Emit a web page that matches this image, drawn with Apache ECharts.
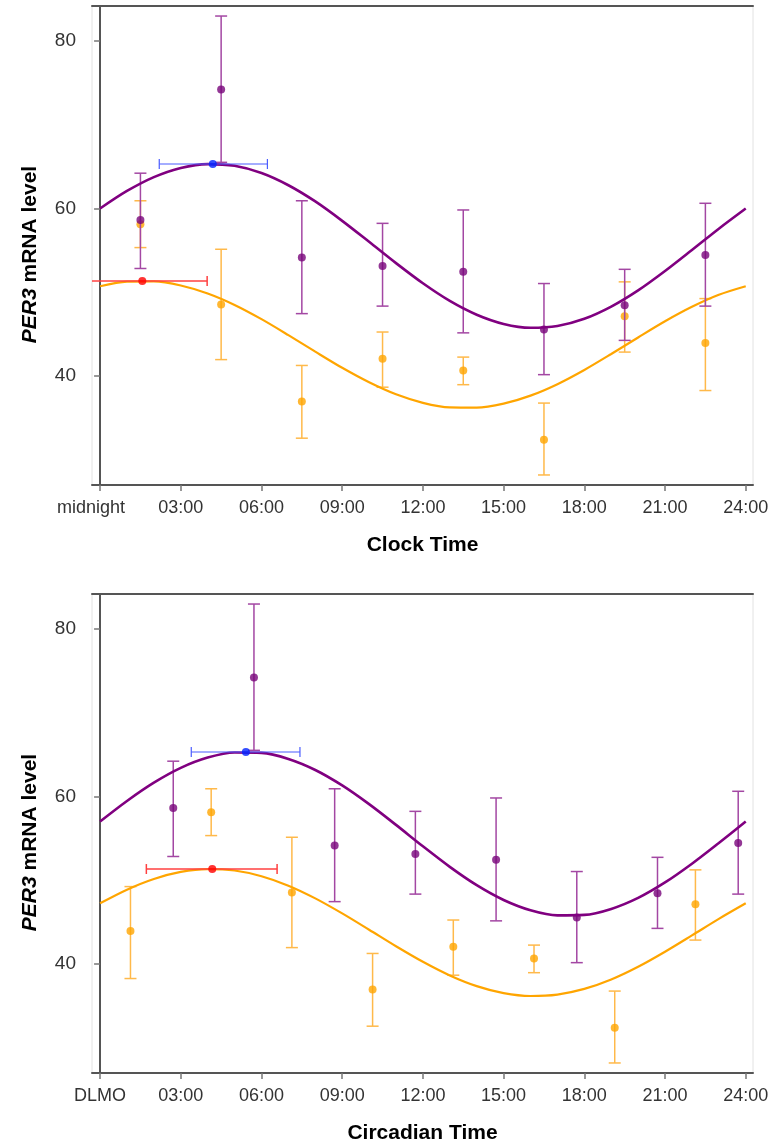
<!DOCTYPE html>
<html>
<head>
<meta charset="utf-8">
<title>PER3 mRNA level</title>
<script src="https://cdn.jsdelivr.net/npm/echarts@6/dist/echarts.min.js"></script>
<style>
  html, body { margin: 0; padding: 0; background: #fff; }
  #chart { width: 772px; height: 1146px; }
</style>
</head>
<body>
<div id="chart"></div>
<script>
// tick positions
var hourTicks = [0, 3, 6, 9, 12, 15, 18, 21, 24];
var levelTicks = [40, 60, 80];

// sampling times of the means (hours)
var clockPurpleHours = [1.5, 4.5, 7.5, 10.5, 13.5, 16.5, 19.5, 22.5];
var clockOrangeHours = [1.5, 4.5, 7.5, 10.5, 13.5, 16.5, 19.5, 22.5];
var circPurpleHours = [2.72, 5.72, 8.72, 11.72, 14.72, 17.72, 20.72, 23.72];
var circOrangeHours = [4.13, 7.13, 10.13, 13.13, 16.13, 19.13, 22.13, 1.13];

// purple group: mean and error bar ends
var purpleMean = [58.6, 74.2, 54.1, 53.1, 52.4, 45.5, 48.4, 54.4];
var purpleUpper = [64.2, 83.0, 60.9, 58.2, 59.8, 51.0, 52.7, 60.6];
var purpleLower = [52.8, 65.5, 47.4, 48.3, 45.1, 40.1, 44.2, 48.3];

// orange group: mean and error bar ends
var orangeMean = [58.1, 48.5, 36.9, 42.0, 40.6, 32.3, 47.1, 43.9];
var orangeUpper = [60.9, 55.1, 41.2, 45.2, 42.2, 36.7, 51.2, 49.2];
var orangeLower = [55.3, 41.9, 32.5, 38.6, 38.9, 28.1, 42.8, 38.2];

// fitted curves
var fitHours = [0, 1, 2, 3, 4, 5, 6, 7, 8, 9, 10, 11, 12, 13, 14, 15, 16, 17, 18, 19, 20, 21, 22, 23, 24];
var clockPurpleFit = [59.97, 62.07, 63.73, 64.83, 65.29, 65.08, 64.22, 62.76, 60.82, 58.5, 55.99, 53.44, 51.03,
  48.92, 47.27, 46.17, 45.71, 45.92, 46.78, 48.24, 50.18, 52.5, 55.01, 57.56, 59.97];
var clockOrangeFit = [50.67, 51.22, 51.25, 50.77, 49.81, 48.44, 46.74, 44.83, 42.85, 40.92, 39.19, 37.75, 36.73,
  36.18, 36.15, 36.63, 37.59, 38.96, 40.66, 42.57, 44.55, 46.48, 48.21, 49.65, 50.67];
var circPurpleFit = [56.98, 59.44, 61.63, 63.4, 64.63, 65.24, 65.19, 64.47, 63.15, 61.3, 59.06, 56.58, 54.02,
  51.56, 49.37, 47.6, 46.37, 45.76, 45.81, 46.53, 47.85, 49.7, 51.94, 54.42, 56.98];
var circOrangeFit = [47.2, 48.83, 50.11, 50.95, 51.29, 51.12, 50.44, 49.31, 47.79, 45.99, 44.04, 42.06, 40.2,
  38.57, 37.29, 36.45, 36.11, 36.28, 36.96, 38.09, 39.61, 41.41, 43.36, 45.34, 47.2];

// acrophase with its range: [hour, level, low hour, high hour]
var clockPurplePeak = [4.19, 65.3, 2.2, 6.22];
var clockOrangePeak = [1.57, 51.3, -0.85, 3.98];
var circPurplePeak = [5.42, 65.3, 3.39, 7.43];
var circOrangePeak = [4.17, 51.3, 1.72, 6.58];

var PURPLE = '#78057a', PURPLE_BAR = '#a347a3';
var ORANGE = '#ffa500', ORANGE_BAR = '#ffb94a';
var labelFont = '"Liberation Sans", Arial, sans-serif';
var titleFont = '"Liberation Sans", Arial, sans-serif';

function zip(a, b) {
  var out = [];
  for (var i = 0; i < a.length; i++) out.push([a[i], b[i]]);
  return out;
}

function errData(xs, lo, hi) {
  var out = [];
  for (var i = 0; i < xs.length; i++) out.push([xs[i], lo[i], hi[i]]);
  return out;
}

// vertical error bar: data [x, low, high]
function vBarRender(color, lw, cap) {
  return function(params, api) {
    var top = api.coord([api.value(0), api.value(2)]);
    var bot = api.coord([api.value(0), api.value(1)]);
    var st = { stroke: color, lineWidth: lw };
    return { type: 'group', children: [
      { type: 'line', shape: { x1: top[0], y1: top[1], x2: bot[0], y2: bot[1] }, style: st },
      { type: 'line', shape: { x1: top[0] - cap, y1: top[1], x2: top[0] + cap, y2: top[1] }, style: st },
      { type: 'line', shape: { x1: bot[0] - cap, y1: bot[1], x2: bot[0] + cap, y2: bot[1] }, style: st }
    ]};
  };
}

// horizontal error bar: data [y, low, high]
function hBarRender(color, lw, cap) {
  return function(params, api) {
    var l = api.coord([api.value(1), api.value(0)]);
    var r = api.coord([api.value(2), api.value(0)]);
    var st = { stroke: color, lineWidth: lw };
    return { type: 'group', children: [
      { type: 'line', shape: { x1: l[0], y1: l[1], x2: r[0], y2: r[1] }, style: st },
      { type: 'line', shape: { x1: l[0], y1: l[1] - cap, x2: l[0], y2: l[1] + cap }, style: st },
      { type: 'line', shape: { x1: r[0], y1: r[1] - cap, x2: r[0], y2: r[1] + cap }, style: st }
    ]};
  };
}

function panelSeries(gi, pHours, oHours, pFit, oFit, pPeak, oPeak) {
  var ax = { xAxisIndex: gi * 2, yAxisIndex: gi };
  function s(o) { return Object.assign(o, ax); }
  return [
    // orange group underneath
    s({ type: 'custom', renderItem: vBarRender(ORANGE_BAR, 1.5, 6), clip: true,
      encode: { x: 0, y: [1, 2] }, data: errData(oHours, orangeLower, orangeUpper), z: 2 }),
    s({ type: 'scatter', symbol: 'circle', symbolSize: 8, itemStyle: { color: ORANGE },
      data: zip(oHours, orangeMean), z: 3 }),
    s({ type: 'line', data: zip(fitHours, oFit), smooth: 0.3, showSymbol: false,
      lineStyle: { color: ORANGE, width: 2.2 }, z: 4 }),
    s({ type: 'custom', renderItem: hBarRender('#ff4040', 1.5, 5), clip: true,
      encode: { x: [1, 2], y: 0 }, data: [[oPeak[1], oPeak[2], oPeak[3]]], z: 5 }),
    s({ type: 'scatter', symbol: 'circle', symbolSize: 8, itemStyle: { color: '#ff0000' },
      data: [[oPeak[0], oPeak[1]]], z: 6 }),
    // purple group on top
    s({ type: 'custom', renderItem: vBarRender(PURPLE_BAR, 1.5, 6), clip: true,
      encode: { x: 0, y: [1, 2] }, data: errData(pHours, purpleLower, purpleUpper), z: 7 }),
    s({ type: 'scatter', symbol: 'circle', symbolSize: 8, itemStyle: { color: PURPLE },
      data: zip(pHours, purpleMean), z: 8 }),
    s({ type: 'line', data: zip(fitHours, pFit), smooth: 0.3, showSymbol: false,
      lineStyle: { color: '#800080', width: 2.6 }, z: 9 }),
    s({ type: 'custom', renderItem: hBarRender('#4a5cff', 1.2, 5), clip: true,
      encode: { x: [1, 2], y: 0 }, data: [[pPeak[1], pPeak[2], pPeak[3]]], z: 10 }),
    s({ type: 'scatter', symbol: 'circle', symbolSize: 8, itemStyle: { color: '#0022ff' },
      data: [[pPeak[0], pPeak[1]]], z: 11 })
  ];
}

function hourLabel(zeroText, zeroShift) {
  return function(v) {
    if (v === 0) return zeroShift ? '{z|' + zeroText + '}' : zeroText;
    return (v < 10 ? '0' : '') + v + ':00';
  };
}

function xAxisPair(gi, title, zeroText, zeroShift) {
  return [{
    type: 'value', gridIndex: gi, position: 'bottom', min: -0.3, max: 24.27,
    name: title, nameLocation: 'middle', nameGap: 50,
    nameTextStyle: { fontFamily: titleFont, fontWeight: 'bold', fontSize: 21, color: '#000' },
    axisLine: { show: true, lineStyle: { color: '#555', width: 2 } },
    axisTick: { show: true, customValues: hourTicks, length: 6, lineStyle: { color: '#777', width: 1.5 } },
    axisLabel: { customValues: hourTicks, formatter: hourLabel(zeroText, zeroShift), margin: 14,
      fontFamily: labelFont, fontSize: 18, color: '#333',
      rich: { z: { fontFamily: labelFont, fontSize: 18, color: '#333', padding: [0, zeroShift, 0, 0] } } },
    splitLine: { show: false }
  }, {
    type: 'value', gridIndex: gi, position: 'top', min: -0.3, max: 24.27,
    axisLine: { show: true, lineStyle: { color: '#555', width: 2 } },
    axisTick: { show: false }, axisLabel: { show: false }, splitLine: { show: false }
  }];
}

function yAxisOf(gi) {
  return {
    type: 'value', gridIndex: gi, min: 26.9, max: 84.2,
    name: '{i|PER3} mRNA level', nameLocation: 'middle', nameGap: 51,
    nameTextStyle: { fontFamily: titleFont, fontWeight: 'bold', fontSize: 21, color: '#000',
      padding: [0, 18, 0, 0],
      rich: { i: { fontFamily: titleFont, fontWeight: 'bold', fontStyle: 'italic', fontSize: 21, color: '#000' } } },
    axisLine: { show: true, lineStyle: { color: '#555', width: 2 } },
    axisTick: { show: true, customValues: levelTicks, length: 6, lineStyle: { color: '#777', width: 1.5 } },
    axisLabel: { customValues: levelTicks, margin: 16, fontFamily: labelFont, fontSize: 19, color: '#333' },
    splitLine: { show: false }
  };
}

var chart = echarts.init(document.getElementById('chart'), null, { renderer: 'canvas' });
var option = {
  animation: false,
  backgroundColor: '#fff',
  grid: [
    { left: 92, top: 6, width: 661, height: 479, show: true, borderColor: '#e2e2e2', borderWidth: 1 },
    { left: 92, top: 594, width: 661, height: 479, show: true, borderColor: '#e2e2e2', borderWidth: 1 }
  ],
  xAxis: xAxisPair(0, 'Clock Time', 'midnight', 18).concat(xAxisPair(1, 'Circadian Time', 'DLMO', 0)),
  yAxis: [yAxisOf(0), yAxisOf(1)],
  series: panelSeries(0, clockPurpleHours, clockOrangeHours, clockPurpleFit, clockOrangeFit, clockPurplePeak, clockOrangePeak)
    .concat(panelSeries(1, circPurpleHours, circOrangeHours, circPurpleFit, circOrangeFit, circPurplePeak, circOrangePeak))
};
chart.setOption(option);
</script>
</body>
</html>
